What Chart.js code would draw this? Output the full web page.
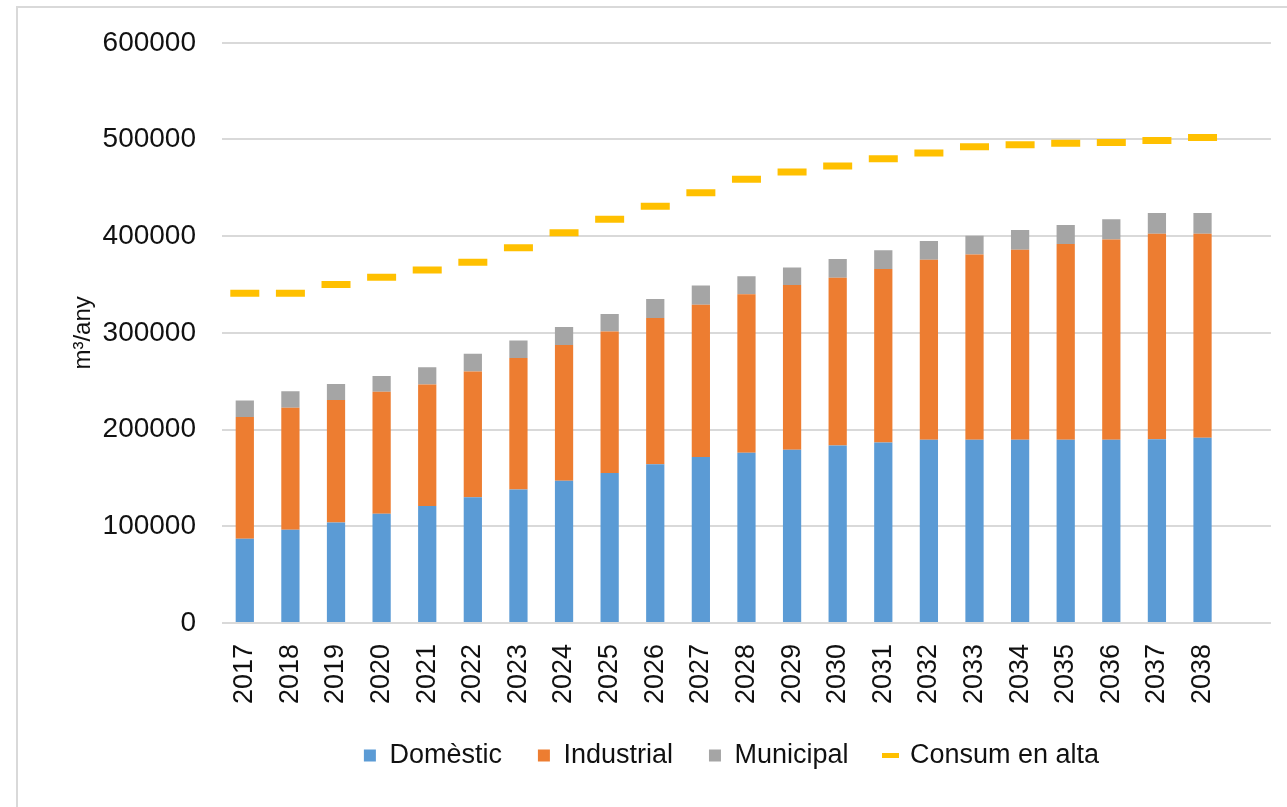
<!DOCTYPE html>
<html>
<head>
<meta charset="utf-8">
<script src="https://cdn.jsdelivr.net/npm/chart.js@4.4.1/dist/chart.umd.min.js"></script>
<style>
  html, body { margin: 0; padding: 0; background: #fff; overflow: hidden; }
  #frame { position: absolute; left: 16px; top: 6px; width: 1300px; height: 820px; border: 2px solid #d9d9d9; box-sizing: border-box; }
  #c { position: absolute; left: 0; top: 0; }
</style>
</head>
<body>
<div id="frame"></div>
<canvas id="c" width="1294" height="807"></canvas>
<script>
// Categories (last one is an empty slot, as in the original axis)
const years = ['2017','2018','2019','2020','2021','2022','2023','2024','2025','2026','2027',
               '2028','2029','2030','2031','2032','2033','2034','2035','2036','2037','2038',''];

const domestic = [87000, 96500, 104000, 113000, 121000, 130000, 138000, 147000, 155000, 164000, 171500,
                  176000, 179000, 183500, 186500, 189500, 189500, 189500, 189500, 189500, 190000, 191500];

const industrial = [126000, 126000, 126500, 126000, 125500, 130000, 136000, 140500, 146500, 151500, 157500,
                    164000, 170500, 173500, 179500, 186000, 191500, 196500, 202500, 207000, 212500, 211000];

const municipal = [17000, 17000, 16500, 16500, 18000, 18500, 18000, 18500, 18000, 19500, 20000,
                   18500, 18000, 19500, 19500, 19500, 19500, 20500, 19500, 21000, 21500, 21500];

const consumAlta = [341000, 341000, 350000, 357500, 365000, 373000, 388000, 403500, 417500, 431000, 445000,
                    459000, 466500, 472500, 480000, 486000, 492500, 494500, 496000, 497000, 499000, 502000];

const yTicks = [0, 100000, 200000, 300000, 400000, 500000, 600000];

const FONT = "'Liberation Sans', Arial, sans-serif";
const TXT = '#111111';

const shiftLegend = {
  id: 'shiftLegend',
  afterLayout(chart) {
    const lg = chart.legend;
    if (lg) { lg.left += 52; lg.right += 52; }
  }
};

new Chart(document.getElementById('c'), {
  data: {
    labels: years,
    datasets: [
      { type: 'bar', label: 'Domèstic', data: domestic, backgroundColor: '#5B9BD5', stack: 's',
        barPercentage: 0.4, categoryPercentage: 1.0 },
      { type: 'bar', label: 'Industrial', data: industrial, backgroundColor: '#ED7D31', stack: 's',
        barPercentage: 0.4, categoryPercentage: 1.0 },
      { type: 'bar', label: 'Municipal', data: municipal, backgroundColor: '#A5A5A5', stack: 's',
        barPercentage: 0.4, categoryPercentage: 1.0 },
      { type: 'line', label: 'Consum en alta', data: consumAlta, stack: 'line',
        showLine: false, borderColor: '#FFC000', backgroundColor: '#FFC000', borderWidth: 5,
        pointStyle: 'line', pointRadius: 14.5, pointHoverRadius: 14.5,
        pointBorderWidth: 7, pointBorderColor: '#FFC000' }
    ]
  },
  options: {
    responsive: false,
    animation: false,
    layout: { padding: { left: 65, right: 0, top: 41, bottom: 28 } },
    plugins: {
      tooltip: { enabled: false },
      legend: {
        position: 'bottom',
        labels: {
          font: { family: FONT, size: 27 },
          color: TXT,
          usePointStyle: true,
          boxWidth: 12,
          boxHeight: 12,
          padding: 36,
          generateLabels(chart) {
            const items = Chart.defaults.plugins.legend.labels.generateLabels(chart);
            items.forEach((it, i) => {
              if (i === 3) { it.pointStyle = 'line'; it.lineWidth = 5; it.strokeStyle = '#FFC000'; }
              else { it.pointStyle = 'rect'; it.lineWidth = 0; }
            });
            return items;
          }
        }
      }
    },
    scales: {
      x: {
        stacked: true,
        grid: { display: false },
        border: { display: false },
        afterFit(scale) { scale.height = scale.height - 11; },
        ticks: {
          font: { family: FONT, size: 27 },
          color: TXT,
          minRotation: 90,
          maxRotation: 90,
          autoSkip: false,
          padding: 13
        }
      },
      y: {
        stacked: true,
        min: 0,
        max: 600000,
        afterBuildTicks(scale) { scale.ticks = yTicks.map(v => ({ value: v })); },
        afterFit(scale) { scale.width = 157; },
        grid: { color: '#d9d9d9', lineWidth: 2, drawTicks: false },
        border: { display: false },
        ticks: {
          font: { family: FONT, size: 28 },
          color: TXT,
          padding: 26,
          callback: v => String(v)
        },
        title: {
          display: true,
          text: 'm³/any',
          font: { family: FONT, size: 24 },
          color: TXT,
          padding: { top: 4, bottom: 4 }
        }
      }
    }
  },
  plugins: [shiftLegend]
});
</script>
</body>
</html>
